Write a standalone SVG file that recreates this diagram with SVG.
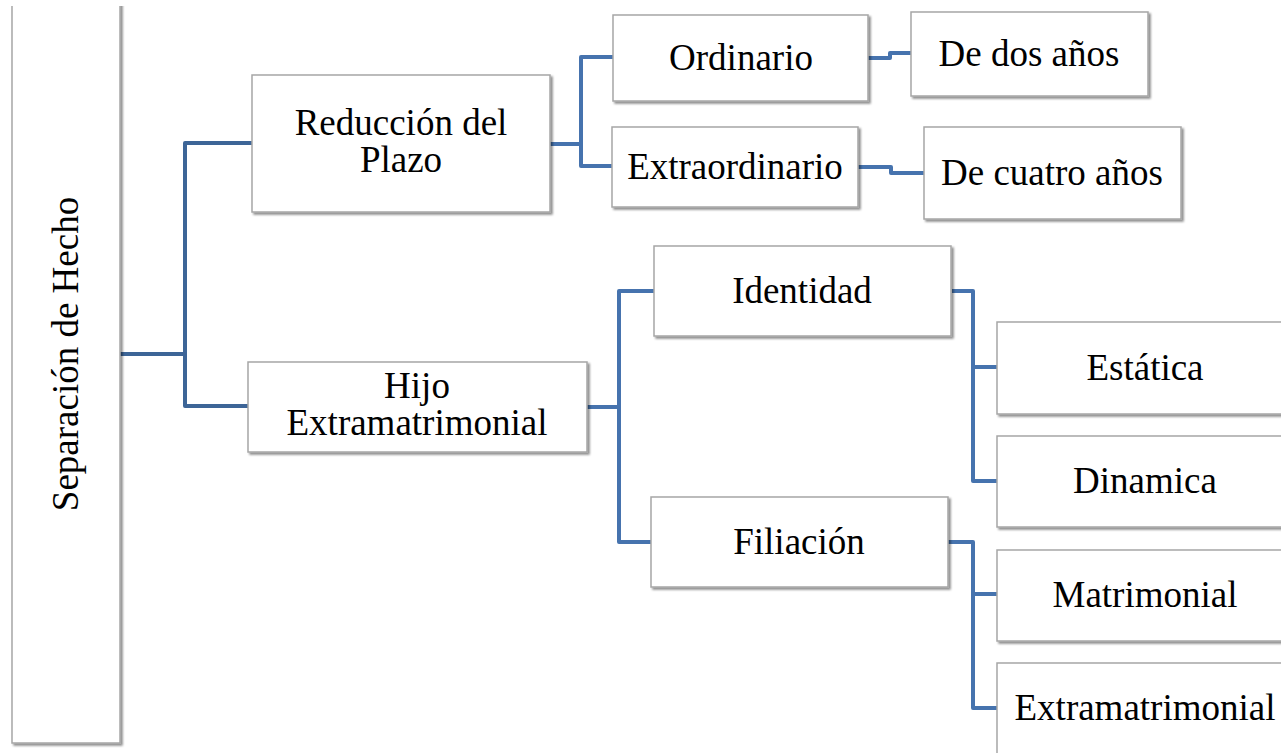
<svg xmlns="http://www.w3.org/2000/svg" width="1281" height="753" viewBox="0 0 1281 753">
<defs>
<filter id="sh" x="-10%" y="-10%" width="130%" height="130%">
<feDropShadow dx="2" dy="2" stdDeviation="1.2" flood-color="#000" flood-opacity="0.45"/>
</filter>
<clipPath id="clipTop"><rect x="0" y="6" width="1281" height="760"/></clipPath>
</defs>
<style>
.box{fill:#fff;stroke:#a6a6a6;stroke-width:1.5;filter:url(#sh)}
.t{font-family:"Liberation Serif","Times New Roman",serif;font-size:37px;fill:#000;text-anchor:middle}
.c1{fill:none;stroke:#3d6597;stroke-width:4;stroke-linejoin:round}
.c2{fill:none;stroke:#4673ae;stroke-width:4;stroke-linejoin:round}
</style>
<rect width="1281" height="753" fill="#fff"/>
<g id="connectors">
<path class="c1" d="M120 354 H185 M252 143 H185 V406 H249"/>
<path class="c2" d="M549 144 H581 M613 57 H581 V166 H612"/>
<path class="c2" d="M868 58 H890 V53 H911"/>
<path class="c2" d="M857 167 H891 V173 H924"/>
<path class="c2" d="M587 407 H619 M654 291 H619 V542 H651"/>
<path class="c2" d="M952 291 H973 V481 H997 M973 367 H997"/>
<path class="c2" d="M948 542 H973 V708 H997 M973 594 H997"/>
</g>
<g id="n-separacion" clip-path="url(#clipTop)">
<rect class="box" x="12" y="-20" width="108" height="763"/>
<text class="t" transform="translate(78 354) rotate(-90)">Separación de Hecho</text>
</g>
<g id="n-reduccion">
<rect class="box" x="252" y="75" width="298" height="137"/>
<text class="t" x="401" y="135">Reducción del</text>
<text class="t" x="401" y="172">Plazo</text>
</g>
<g id="n-hijo">
<rect class="box" x="248" y="362" width="339" height="90"/>
<text class="t" x="417" y="398">Hijo</text>
<text class="t" x="417" y="435">Extramatrimonial</text>
</g>
<g id="n-ordinario">
<rect class="box" x="613" y="15" width="255" height="86"/>
<text class="t" x="741" y="70">Ordinario</text>
</g>
<g id="n-extraordinario">
<rect class="box" x="612" y="127" width="246" height="80"/>
<text class="t" x="735" y="179">Extraordinario</text>
</g>
<g id="n-dosanos">
<rect class="box" x="911" y="12" width="237" height="84"/>
<text class="t" x="1029" y="66">De dos años</text>
</g>
<g id="n-cuatroanos">
<rect class="box" x="924" y="127" width="257" height="92"/>
<text class="t" x="1052" y="185">De cuatro años</text>
</g>
<g id="n-identidad">
<rect class="box" x="654" y="246" width="297" height="90"/>
<text class="t" x="802" y="303">Identidad</text>
</g>
<g id="n-filiacion">
<rect class="box" x="651" y="497" width="297" height="90"/>
<text class="t" x="799" y="554">Filiación</text>
</g>
<g id="n-estatica">
<rect class="box" x="997" y="322" width="296" height="92"/>
<text class="t" x="1145" y="380">Estática</text>
</g>
<g id="n-dinamica">
<rect class="box" x="997" y="436" width="296" height="91"/>
<text class="t" x="1145" y="493">Dinamica</text>
</g>
<g id="n-matrimonial">
<rect class="box" x="997" y="550" width="296" height="91"/>
<text class="t" x="1145" y="607">Matrimonial</text>
</g>
<g id="n-extramatrimonial">
<rect class="box" x="997" y="663" width="296" height="100"/>
<text class="t" x="1145" y="720">Extramatrimonial</text>
</g>
</svg>
